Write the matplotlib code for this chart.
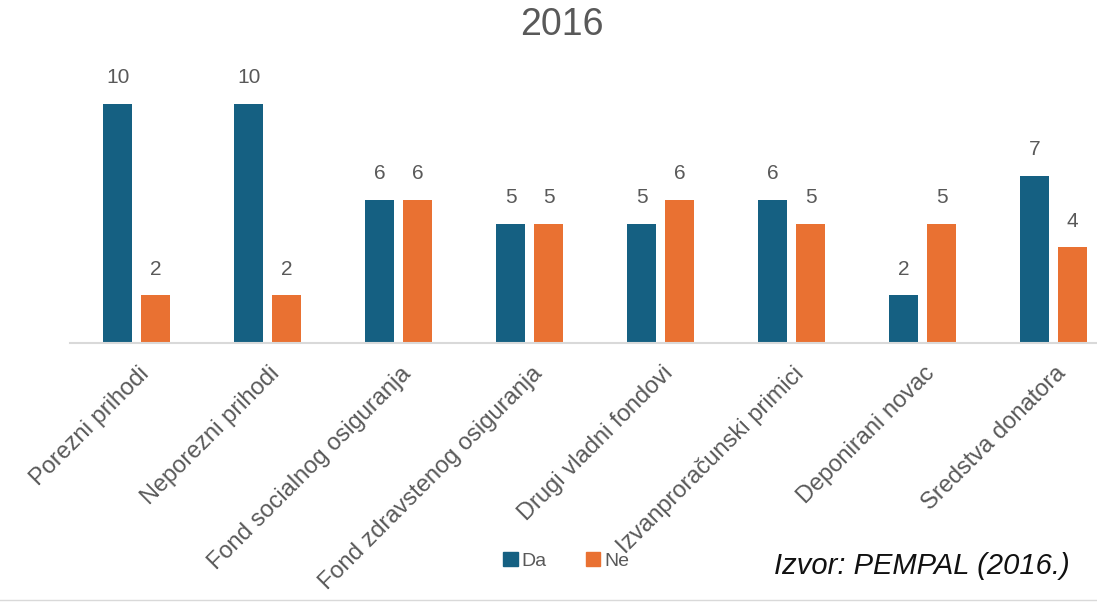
import matplotlib
matplotlib.use("Agg")
import matplotlib.pyplot as plt
from matplotlib.lines import Line2D
from matplotlib.patches import Patch
import numpy as np

# --- data ---------------------------------------------------------------------
categories = ["Porezni prihodi", "Neporezni prihodi", "Fond socialnog osiguranja",
              "Fond zdravstenog osiguranja", "Drugi vladni fondovi",
              "Izvanproračunski primici", "Deponirani novac", "Sredstva donatora"]
da = [10, 10, 6, 5, 5, 6, 2, 7]
ne = [2, 2, 6, 5, 6, 5, 5, 4]

BLUE, ORANGE = "#156082", "#E97132"
GRAY, AXIS = "#595959", "#D9D9D9"

plt.rcParams["font.family"] = ["Liberation Sans", "DejaVu Sans"]

fig = plt.figure(figsize=(10.97, 6.04), dpi=100)
W, H = 1097, 604
# axes: left 70px, right 1097px, baseline at y=343px, top at y=60px
ax = fig.add_axes([70 / W, 1 - 343 / H, (1097 - 70) / W, (343 - 60) / H])

x = np.arange(len(categories))
off, bw = 0.145, 0.222
b1 = ax.bar(x - off, da, width=bw, color=BLUE, label="Da")
b2 = ax.bar(x + off, ne, width=bw, color=ORANGE, label="Ne")
for bars, vals in ((b1, da), (b2, ne)):
    for b, v in zip(bars, vals):
        ax.annotate(str(v), (b.get_x() + b.get_width() / 2, v), xytext=(0, 12),
                    textcoords="offset points", ha="center", va="bottom",
                    fontsize=15, color=GRAY)

ax.set_xlim(-0.508, 7.33)
ax.set_ylim(0, 283 / 23.9)
for side in ("top", "right", "left"):
    ax.spines[side].set_visible(False)
ax.spines["bottom"].set_color(AXIS)
ax.spines["bottom"].set_linewidth(1.5)
ax.set_yticks([])
ax.set_xticks(x + 0.01)
ax.set_xticklabels(categories, rotation=45, ha="right", va="top",
                   rotation_mode="anchor", fontsize=17, color=GRAY)
ax.tick_params(axis="x", length=0, pad=14)

fig.text(562 / W, 1 - 25 / H, "2016", ha="center", va="center",
         fontsize=27, color=GRAY)

handles = [Patch(color=BLUE, label="Da"), Patch(color=ORANGE, label="Ne")]
fig.legend(handles=handles, loc="center", bbox_to_anchor=(566 / W, 1 - 561 / H),
           ncols=2, frameon=False, fontsize=14, labelcolor=GRAY,
           handlelength=0.75, handleheight=0.75, handletextpad=0.2,
           columnspacing=2.0)

fig.text(1070 / W, 1 - 566 / H, "Izvor: PEMPAL (2016.)", ha="right", va="center",
         fontsize=21, style="italic", color="#111111")

fig.add_artist(Line2D([0, 1], [1 - 600 / H, 1 - 600 / H], transform=fig.transFigure,
                      color=AXIS, linewidth=1))

fig.savefig("out.png", dpi=100, facecolor="white")
